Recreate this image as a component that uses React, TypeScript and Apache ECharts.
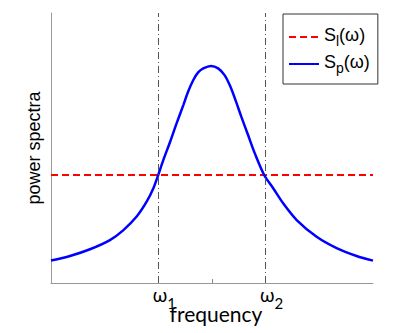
import React, { useEffect, useRef } from "react";
import * as echarts from "echarts";

// frequency (0..100) and power (0..100)
const freq = [0, 5.9, 12.1, 18.3, 22.5, 26.6, 29.7, 31.8, 33.3, 34.9, 37.0, 39.0, 41.1, 42.6, 44.2, 45.7, 47.3, 49.7, 51.9, 53.9, 55.5, 57.1, 59.1, 61.2, 63.3, 66.2, 69.0, 72.1, 76.3, 82.5, 88.7, 94.9, 100];
const powerSp = [8.3, 10.0, 12.5, 15.9, 19.6, 24.6, 30.1, 35.1, 40.0, 45.6, 52.3, 59.1, 65.9, 70.9, 75.2, 78.0, 79.5, 80.4, 79.5, 77.0, 73.3, 68.4, 61.6, 54.8, 48.0, 40.0, 35.1, 29.5, 23.3, 17.1, 12.9, 10.0, 8.3];
const flatFreq = [0, 100];
const flatPower = [40, 40];
const omegaTicks = [33.2, 66.5];
const omegaNames = ["1", "2"];
const centerTick = 50;
const legendSubs = ["l", "p"];

export default function App() {
  const ref = useRef<HTMLDivElement>(null);
  useEffect(() => {
    if (!ref.current) return;
    const chart = echarts.init(ref.current, null, { renderer: "svg" });
    const labelFont = "Lato";
    const option: any = {
      animation: false,
      backgroundColor: "#ffffff",
      grid: { left: 51, top: 13, width: 322, height: 270, outerBoundsMode: "none", containLabel: false },
      legend: {
        orient: "vertical",
        left: 283,
        top: 14,
        padding: [12, 8, 9, 5],
        itemGap: 5,
        itemWidth: 30,
        itemHeight: 14,
        borderColor: "#333",
        borderWidth: 1,
        backgroundColor: "#fff",
        itemStyle: { opacity: 0 },
        data: legendSubs,
        formatter: (n: string) => `{s|S}{b|${n}}{s|(ω)}`,
        textStyle: {
          fontFamily: "Liberation Sans",
          color: "#000",
          rich: {
            s: { fontSize: 18, fontFamily: "Liberation Sans", color: "#000", verticalAlign: "top", lineHeight: 22 },
            b: { fontSize: 14, fontFamily: "Liberation Sans", color: "#000", verticalAlign: "bottom", lineHeight: 22 },
          },
        },
      },
      xAxis: {
        type: "value",
        min: 0,
        max: 100,
        name: "frequency",
        nameLocation: "middle",
        nameGap: 20,
        nameMoveOverlap: false,
        nameTextStyle: { fontFamily: labelFont, fontSize: 21, color: "#000", padding: [0, 0, 0, 8] },
        axisLine: { show: true, lineStyle: { color: "#999", width: 1 } },
        splitLine: { show: false },
        axisTick: {
          show: true,
          inside: true,
          length: 4,
          customValues: [omegaTicks[0], centerTick, omegaTicks[1]],
          lineStyle: { color: "#888" },
        },
        axisLabel: {
          show: true,
          customValues: omegaTicks,
          margin: 2,
          padding: [0, 0, 0, 13],
          formatter: (v: number) => {
            const i = omegaTicks.findIndex((t) => Math.abs(t - v) < 0.01);
            return i >= 0 ? `{w|ω}{s|${omegaNames[i]}}` : "";
          },
          rich: {
            w: { fontFamily: labelFont, fontSize: 19, color: "#000", verticalAlign: "top", lineHeight: 19 },
            s: { fontFamily: labelFont, fontSize: 15, color: "#000", verticalAlign: "bottom", lineHeight: 25 },
          },
        },
      },
      yAxis: {
        type: "value",
        min: 0,
        max: 100,
        name: "power spectra",
        nameLocation: "middle",
        nameGap: 8,
        nameMoveOverlap: false,
        nameTextStyle: { fontFamily: "Liberation Sans", fontSize: 18, color: "#000" },
        axisLine: { show: true, lineStyle: { color: "#999", width: 1 } },
        axisTick: { show: false },
        axisLabel: { show: false },
        splitLine: { show: false },
      },
      series: [
        {
          name: legendSubs[0],
          type: "line",
          data: flatFreq.map((x, i) => [x, flatPower[i]]),
          symbol: "none",
          lineStyle: { color: "#ff0000", width: 2, type: [7, 4] },
          itemStyle: { color: "#ff0000" },
          markLine: {
            silent: true,
            symbol: "none",
            label: { show: false },
            lineStyle: { color: "#555", width: 1, type: [7, 3, 1, 3] },
            data: omegaTicks.map((t) => ({ xAxis: t })),
          },
          z: 3,
        },
        {
          name: legendSubs[1],
          type: "line",
          data: freq.map((x, i) => [x, powerSp[i]]),
          symbol: "none",
          smooth: 0.3,
          lineStyle: { color: "#0000ff", width: 2.5 },
          itemStyle: { color: "#0000ff" },
          z: 4,
        },
      ],
    };
    chart.setOption(option);
    return () => chart.dispose();
  }, []);
  return (
    <div
      ref={ref}
      style={{ position: "absolute", left: 0, top: 0, width: 415, height: 333, background: "#fff" }}
    />
  );
}
